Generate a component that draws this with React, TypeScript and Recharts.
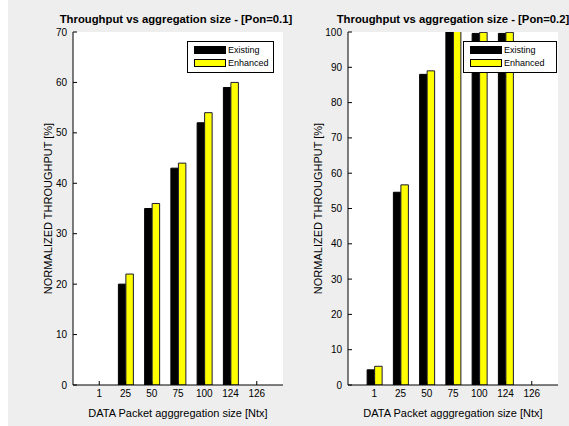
import { Bar, BarChart, CartesianGrid, Legend, XAxis, YAxis } from "recharts"

const sizes = ["1", "25", "50", "75", "100", "124", "126"]

const existingPon01 = [0, 20, 35, 43, 52, 59, 0]
const enhancedPon01 = [0, 22, 36, 44, 54, 60, 0]

const existingPon02 = [4.3, 54.6, 88, 102, 99.6, 99.6, 0]
const enhancedPon02 = [5.3, 56.7, 89, 102, 99.9, 99.9, 0]

const ticksPon01 = [0, 10, 20, 30, 40, 50, 60, 70]
const ticksPon02 = [0, 10, 20, 30, 40, 50, 60, 70, 80, 90, 100]

const seriesNames = ["Existing", "Enhanced"]
const seriesColors = ["#000000", "#ffff00"]

const font = '"Liberation Sans", Arial, sans-serif'

function LegendBox({ width }: { width: number }) {
  return (
    <div
      style={{
        width,
        height: 32,
        boxSizing: "border-box",
        border: "1px solid #000",
        background: "#fff",
        padding: "4px 0 0 6px",
        fontFamily: font,
        fontSize: 9,
        color: "#000",
      }}
    >
      {seriesNames.map((name, i) => (
        <div key={name} style={{ display: "flex", alignItems: "center", height: 8, marginBottom: 5 }}>
          <div
            style={{
              width: 32,
              height: 8,
              boxSizing: "border-box",
              border: "1px solid #000",
              background: seriesColors[i],
            }}
          />
          <span style={{ marginLeft: 2, lineHeight: "8px" }}>{name}</span>
        </div>
      ))}
    </div>
  )
}

type PanelProps = {
  left: number
  width: number
  existing: number[]
  enhanced: number[]
  yMax: number
  ticks: number[]
  legendLeft: number
  legendWidth: number
  labelDx: number
}

function Panel(p: PanelProps) {
  const data = sizes.map((size, i) => ({
    size,
    existing: p.existing[i],
    enhanced: p.enhanced[i],
  }))
  const pad = { left: 13.125, right: 13.125 }

  return (
    <div style={{ position: "absolute", left: p.left, top: 0 }}>
      <BarChart
        width={p.width}
        height={426}
        data={data}
        margin={{ top: 32, right: p.width - 275, bottom: 1, left: 15 }}
        barGap={0}
        barSize={7.5}
      >
        <CartesianGrid horizontal={false} vertical={false} fill="#ffffff" />
        <XAxis
          dataKey="size"
          interval={0}
          padding={pad}
          height={40}
          tickSize={-4}
          tickMargin={9}
          stroke="#000"
          tick={{ fill: "#000", fontSize: 10 }}
          label={{ value: "DATA Packet agggregation size [Ntx]", position: "insideBottom", offset: 8, fill: "#000", fontSize: 11 }}
        />
        <XAxis xAxisId="top" orientation="top" dataKey="size" interval={0} padding={pad} height={0} tickSize={-4} tick={false} stroke="#000" />
        <YAxis
          domain={[0, p.yMax]}
          ticks={p.ticks}
          allowDataOverflow
          interval={0}
          width={50}
          tickSize={-4}
          tickMargin={10}
          stroke="#000"
          tick={{ fill: "#000", fontSize: 10 }}
          label={{ value: "NORMALIZED THROUGHPUT [%]", angle: -90, position: "center", dx: p.labelDx, fill: "#000", fontSize: 11 }}
        />
        <YAxis yAxisId="r" orientation="right" domain={[0, p.yMax]} ticks={p.ticks} interval={0} width={0} tickSize={-4} tick={false} stroke="#000" />
        <Bar dataKey="existing" name="Existing" fill={seriesColors[0]} stroke="#000" isAnimationActive={false} />
        <Bar dataKey="enhanced" name="Enhanced" fill={seriesColors[1]} stroke="#1a1a33" isAnimationActive={false} />
        <Legend
          layout="horizontal"
          verticalAlign="middle"
          align="center"
          content={() => <LegendBox width={p.legendWidth} />}
          wrapperStyle={{ left: p.legendLeft, top: 41, width: p.legendWidth }}
        />
      </BarChart>
    </div>
  )
}

const titleStyle = {
  position: "absolute" as const,
  top: 13,
  width: 300,
  textAlign: "center" as const,
  fontFamily: font,
  fontWeight: "bold" as const,
  fontSize: 11.3,
  lineHeight: "13px",
  whiteSpace: "nowrap" as const,
  color: "#000",
}

export default function App() {
  return (
    <div
      style={{
        position: "absolute",
        left: 8,
        top: 0,
        width: 561,
        height: 426,
        background: "#eeeeee",
        overflow: "hidden",
        fontFamily: font,
      }}
    >
      <Panel
        left={0}
        width={277}
        existing={existingPon01}
        enhanced={enhancedPon01}
        yMax={70}
        ticks={ticksPon01}
        legendLeft={179}
        legendWidth={87}
        labelDx={0}
      />
      <Panel
        left={275}
        width={286}
        existing={existingPon02}
        enhanced={enhancedPon02}
        yMax={100}
        ticks={ticksPon02}
        legendLeft={180}
        legendWidth={94}
        labelDx={-5}
      />
      <div style={{ ...titleStyle, left: 168 - 150 }}>Throughput vs aggregation size - [Pon=0.1]</div>
      <div style={{ ...titleStyle, left: 445 - 150 }}>Throughput vs aggregation size - [Pon=0.2]</div>
    </div>
  )
}
